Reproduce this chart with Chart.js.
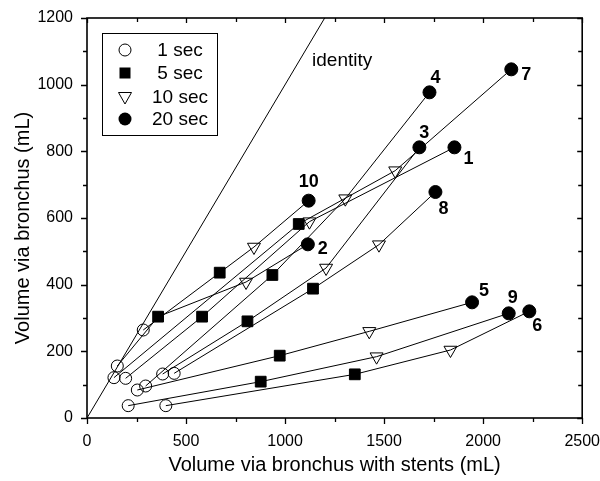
<!DOCTYPE html>
<html><head><meta charset="utf-8">
<script src="https://cdn.jsdelivr.net/npm/chart.js@4/dist/chart.umd.min.js"></script>
<style>html,body{margin:0;padding:0;background:#fff}#wrap{width:600px;height:481px}</style>
</head><body><div id="wrap"><canvas id="c" width="600" height="481"></canvas></div>
<script>
// ---- data ----
const subjects = ['1','2','3','4','5','6','7','8','9','10'];
// 1 sec (open circles)
const x1s  = [195, 153, 382, 296, 254, 398, 136, 440, 208, 284];
const y1s  = [119, 156, 132,  96,  84,  37, 121, 134,  37, 264];
// 5 sec (filled squares)
const x5s  = [581, 359, 810, 936, 973, 1352, 1069, 1141, 877, 670];
const y5s  = [304, 304, 290, 429, 187,  131,  582,  388, 109, 436];
// 10 sec (open down-triangles)
const x10s = [1123, 803, 1207, 1304, 1425, 1835, 1556, 1474, 1462, 843];
const y10s = [ 589, 408,  450,  658,  260,  204,  742,  520,  184, 513];
// 20 sec (filled circles)
const x20s = [1855, 1115, 1678, 1729, 1944, 2233, 2142, 1759, 2129, 1119];
const y20s = [ 812,  521,  812,  977,  347,  320, 1046,  678,  314,  652];
// identity line y = x
const identityX = [0, 1200];
const identityY = [0, 1200];
const legendLabels = ['1 sec', '5 sec', '10 sec', '20 sec'];
const xTicks = [0, 500, 1000, 1500, 2000, 2500];
const yTicks = [0, 200, 400, 600, 800, 1000, 1200];
const xTitle = 'Volume via bronchus with stents (mL)';
const yTitle = 'Volume via bronchus (mL)';

// ---- styling / placement ----
const FONT = '"Liberation Sans", Arial, sans-serif';
const labelOffsets = [[14,12],[15,5],[5,-14],[6,-14],[12,-11],[8,15],[15,6],[8,17],[4,-15],[0,-19]];
const pointStyles = ['circle','rect','triangle','circle'];
const pointRot = [0,0,180,0];
const pointRad = [6,7.6,7.5,6.5];
const pointFill = ['rgba(0,0,0,0)','#000','rgba(0,0,0,0)','#000'];

const datasets = subjects.map((s,i)=>({
  label: 'Subject ' + s,
  data: [
    {x:x1s[i], y:y1s[i]},
    {x:x5s[i], y:y5s[i]},
    {x:x10s[i], y:y10s[i]},
    {x:x20s[i], y:y20s[i]}
  ],
  showLine: true,
  borderColor: '#000',
  borderWidth: 1,
  pointStyle: pointStyles,
  pointRotation: pointRot,
  pointRadius: pointRad,
  pointBackgroundColor: pointFill,
  pointBorderColor: '#000',
  pointBorderWidth: 1,
  tension: 0
}));
datasets.push({
  label: 'identity',
  data: identityX.map((x,k)=>({x:x, y:identityY[k]})),
  showLine: true, borderColor:'#000', borderWidth:1, pointRadius:0, tension:0
});

const decor = {
  id: 'decor',
  afterDatasetsDraw(chart){
    const ctx = chart.ctx;
    const xs = chart.scales.x, ys = chart.scales.y;
    const {left,right,top,bottom} = chart.chartArea;
    ctx.save();
    // frame
    ctx.strokeStyle = '#000';
    ctx.lineWidth = 1.6;
    ctx.strokeRect(left, top, right-left, bottom-top);
    // ticks
    ctx.lineWidth = 1.3;
    ctx.beginPath();
    for (let v = 0; v <= 2500; v += 250) {
      const p = Math.round(xs.getPixelForValue(v)) + 0.5;
      const major = v % 500 === 0;
      ctx.moveTo(p, bottom); ctx.lineTo(p, bottom + (major ? 6 : 4));
      ctx.moveTo(p, top); ctx.lineTo(p, top + (major ? 5 : 4));
    }
    for (let v = 0; v <= 1200; v += 100) {
      const p = Math.round(ys.getPixelForValue(v)) + 0.5;
      const major = v % 200 === 0;
      ctx.moveTo(left, p); ctx.lineTo(left - (major ? 6 : 4), p);
      ctx.moveTo(right, p); ctx.lineTo(right - (major ? 5 : 4), p);
    }
    ctx.stroke();

    // y axis title
    ctx.fillStyle = '#000';
    ctx.font = '20px ' + FONT;
    ctx.textAlign = 'center';
    ctx.textBaseline = 'middle';
    ctx.save();
    ctx.translate(23, (top + bottom) / 2 + 10);
    ctx.rotate(-Math.PI / 2);
    ctx.fillText(yTitle, 0, 0);
    ctx.restore();

    // subject labels
    ctx.font = 'bold 18px ' + FONT;
    subjects.forEach((s,i)=>{
      const px = xs.getPixelForValue(x20s[i]) + labelOffsets[i][0];
      const py = ys.getPixelForValue(y20s[i]) + labelOffsets[i][1];
      ctx.fillText(s, px, py);
    });

    // identity label
    ctx.font = '19px ' + FONT;
    ctx.textAlign = 'left';
    ctx.fillText('identity', xs.getPixelForValue(1136), ys.getPixelForValue(1071));

    // legend
    const bx = left + 15, by = top + 15, bw = 115, bh = 102;
    ctx.fillStyle = '#fff';
    ctx.fillRect(bx, by, bw, bh);
    ctx.lineWidth = 1;
    ctx.strokeStyle = '#000';
    ctx.strokeRect(bx + 0.5, by + 0.5, bw, bh);
    const rowY = [17, 40, 64, 86];
    legendLabels.forEach((lab,k)=>{
      const mx = bx + 23, my = by + rowY[k];
      ctx.beginPath();
      ctx.lineWidth = 1;
      if (k === 0) { ctx.arc(mx, my, 6, 0, Math.PI*2); ctx.stroke(); }
      else if (k === 1) { ctx.fillStyle = '#000'; ctx.fillRect(mx-5.5, my-5.5, 11, 11); }
      else if (k === 2) { ctx.moveTo(mx-6.5, my-4.5); ctx.lineTo(mx+6.5, my-4.5); ctx.lineTo(mx, my+7); ctx.closePath(); ctx.stroke(); }
      else { ctx.fillStyle = '#000'; ctx.arc(mx, my, 6.5, 0, Math.PI*2); ctx.fill(); }
      ctx.fillStyle = '#000';
      ctx.font = '19px ' + FONT;
      ctx.textAlign = 'center';
      ctx.textBaseline = 'middle';
      ctx.fillText(lab, bx + 78, my + 1);
    });
    ctx.restore();
  }
};

new Chart(document.getElementById('c'), {
  type: 'scatter',
  data: { datasets },
  options: {
    responsive: false,
    animation: false,
    devicePixelRatio: 1,
    layout: { padding: { top: 18, right: 17, left: 0, bottom: 0 } },
    plugins: { legend: { display: false }, tooltip: { enabled: false } },
    scales: {
      x: {
        type: 'linear', min: 0, max: 2500,
        afterFit(s){ s.height = 63; },
        afterBuildTicks(s){ s.ticks = xTicks.map(v=>({value:v})); },
        grid: { display: false, drawTicks: true, tickLength: 14 },
        border: { display: false },
        ticks: { color:'#000', padding: 0, font: { family: FONT, size: 16 }, callback: v => String(v) },
        title: { display: true, text: xTitle, color:'#000',
                 font: { family: FONT, size: 20 }, padding: { top: 0, bottom: 4 } }
      },
      y: {
        type: 'linear', min: 0, max: 1200,
        afterFit(s){ s.width = 87; },
        afterBuildTicks(s){ s.ticks = yTicks.map(v=>({value:v})); },
        grid: { display: false, drawTicks: true, tickLength: 14 },
        border: { display: false },
        ticks: { color:'#000', padding: 0, font: { family: FONT, size: 16 }, callback: v => String(v) },
        title: { display: false }
      }
    }
  },
  plugins: [decor]
});
</script>
</body></html>
